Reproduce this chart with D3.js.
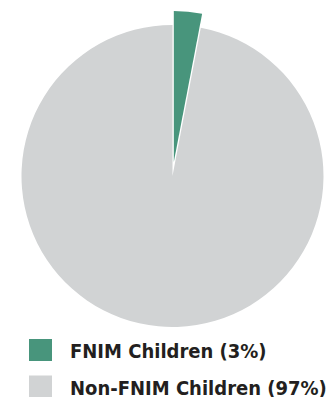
<!DOCTYPE html>
<html>
<head>
<meta charset="utf-8">
<script src="https://cdn.jsdelivr.net/npm/d3@7"></script>
<style>
  body { margin: 0; background: #fff; }
  svg { display: block; }
  .legend text { font-family: "DejaVu Sans Condensed", "DejaVu Sans", Verdana, sans-serif; font-stretch: condensed; font-weight: bold; font-size: 20px; fill: #231f20; }
</style>
</head>
<body>
<svg id="chart" width="336" height="397"></svg>
<script>
// data
categories = ["FNIM Children (3%)", "Non-FNIM Children (97%)"];
values = [3, 97];
colors = ["#48957c", "#d1d3d4"];

let svg = d3.select("#chart"),
    cx = 172.5,
    cy = 176,
    radius = 151,
    explode = 14;

let pie = d3.pie().sort(null).value(function (d) { return d; });
let arc = d3.arc().innerRadius(0).outerRadius(radius);
let arcs = pie(values);

let g = svg.append("g").attr("transform", "translate(" + cx + "," + cy + ")");

g.selectAll("path")
    .data(arcs)
    .enter().append("path")
    .attr("d", arc)
    .attr("fill", function (d, i) { return colors[i]; })
    .attr("transform", function (d, i) {
        if (i !== 0) return null;
        let mid = (d.startAngle + d.endAngle) / 2;
        return "translate(" + (Math.sin(mid) * explode) + "," + (-Math.cos(mid) * explode) + ")";
    });

// legend
let legend = svg.append("g").attr("class", "legend")
    .attr("transform", "translate(29,339)");

let item = legend.selectAll(".item")
    .data(categories)
    .enter().append("g")
    .attr("class", "item")
    .attr("transform", function (d, i) { return "translate(0," + i * 36.5 + ")"; });

item.append("rect")
    .attr("width", 23)
    .attr("height", 22)
    .attr("fill", function (d, i) { return colors[i]; });

item.append("text")
    .attr("x", 41)
    .attr("y", 19)
    .text(function (d) { return d; });
</script>
</body>
</html>
